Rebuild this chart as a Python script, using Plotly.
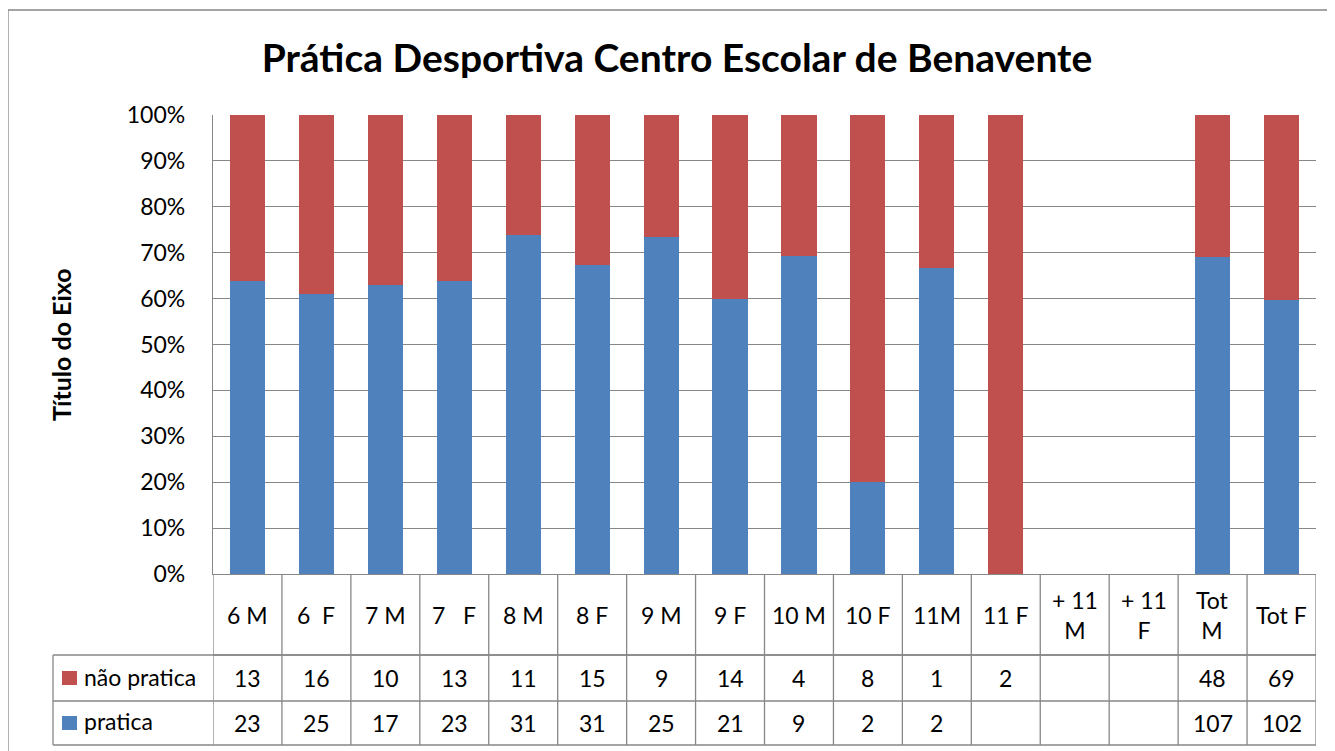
import plotly.graph_objects as go

categories = ["6 M", "6  F", "7 M", "7   F", "8 M", "8 F", "9 M", "9 F",
              "10 M", "10 F", "11M", "11 F", "+ 11 M", "+ 11 F", "Tot M", "Tot F"]
cat_labels = ["6 M", "6  F", "7 M", "7   F", "8 M", "8 F", "9 M", "9 F",
              "10 M", "10 F", "11M", "11 F", "+ 11<br>M", "+ 11<br>F", "Tot<br>M", "Tot F"]
nao_pratica = [13, 16, 10, 13, 11, 15, 9, 14, 4, 8, 1, 2, None, None, 48, 69]
pratica = [23, 25, 17, 23, 31, 31, 25, 21, 9, 2, 2, None, None, None, 107, 102]

BLUE = "#4F81BD"
RED = "#C0504D"
GRID = "#878787"
FONT = "Lato, 'Open Sans', sans-serif"

# the page body has an 8px margin, so figure coords = screen coords - 8
OFF = 8
W, H = 1335, 751
# plot area in screen pixels
SL, SR, ST, SB = 213, 1316, 115, 574
L, T = SL - OFF, ST - OFF
R, B = W - (SR - OFF), H - (SB - OFF)
pw = SR - SL
ph = SB - ST


def py(pix):
    return (SB - pix) / ph


def px_(pix):
    return (pix - SL) / pw


fig = go.Figure()
fig.add_trace(go.Bar(x=categories, y=pratica, name="pratica", marker_color=BLUE,
                     marker_line_width=0))
fig.add_trace(go.Bar(x=categories, y=nao_pratica, name="não pratica", marker_color=RED,
                     marker_line_width=0))

shapes = []
annotations = []
line = dict(color=GRID, width=1.3)

row_lines = [574, 655, 701, 745]
# table vertical lines
for i in range(len(categories) + 1):
    shapes.append(dict(type="line", xref="x", yref="paper", x0=i - 0.5, x1=i - 0.5,
                       y0=0, y1=py(745), line=line))
# horizontal lines
shapes.append(dict(type="line", xref="paper", yref="paper", x0=0, x1=1,
                   y0=py(655), y1=py(655), line=line))
for r in row_lines[1:]:
    shapes.append(dict(type="line", xref="paper", yref="paper", x0=px_(53), x1=1,
                       y0=py(r), y1=py(r), line=line))
shapes.append(dict(type="line", xref="paper", yref="paper", x0=px_(53), x1=px_(53),
                   y0=py(655), y1=py(745), line=line))
# outer chart border
shapes.append(dict(type="rect", xref="paper", yref="paper", x0=px_(8), x1=px_(1345),
                   y0=py(760), y1=py(10), line=dict(color=GRID, width=1.3)))

# legend keys
for r0, r1, color in [(655, 701, RED), (701, 745, BLUE)]:
    mid = (r0 + r1) / 2
    shapes.append(dict(type="rect", xref="paper", yref="paper", x0=px_(62), x1=px_(77),
                       y0=py(mid + 7), y1=py(mid - 7), fillcolor=color, line_width=0))

txt = dict(family=FONT, size=23, color="#000")
for i, lab in enumerate(cat_labels):
    annotations.append(dict(x=i, y=py(614.5), xref="x", yref="paper", text=lab,
                            showarrow=False, yanchor="middle", font=txt))
    if nao_pratica[i] is not None:
        annotations.append(dict(x=i, y=py(678), xref="x", yref="paper", yanchor="middle",
                                text=str(nao_pratica[i]), showarrow=False, font=txt))
    if pratica[i] is not None:
        annotations.append(dict(x=i, y=py(723), xref="x", yref="paper", yanchor="middle",
                                text=str(pratica[i]), showarrow=False, font=txt))

annotations.append(dict(x=px_(82), y=py(677), xref="paper", yref="paper", text="não pratica",
                        showarrow=False, xanchor="left", yanchor="middle", font=txt))
annotations.append(dict(x=px_(82), y=py(721), xref="paper", yref="paper", text="pratica",
                        showarrow=False, xanchor="left", yanchor="middle", font=txt))
annotations.append(dict(x=px_(61), y=py(345), xref="paper", yref="paper",
                        text="<b>Título do Eixo</b>", textangle=-90, showarrow=False,
                        xanchor="center", yanchor="middle",
                        font=dict(family=FONT, size=25, color="#000")))

fig.update_layout(
    barmode="stack",
    barnorm="percent",
    bargap=0.49,
    width=W, height=H,
    margin=dict(l=L, r=R, t=T, b=B),
    paper_bgcolor="white",
    plot_bgcolor="white",
    showlegend=False,
    title=dict(text="<b>Prática Desportiva Centro Escolar de Benavente</b>",
               x=(677 - OFF) / W, xanchor="center", y=1 - (58 - OFF) / H, yanchor="middle",
               font=dict(family=FONT, size=39, color="#000")),
    font=dict(family=FONT, color="#000"),
    shapes=shapes,
    annotations=annotations,
)
fig.update_xaxes(showticklabels=False, showgrid=False, showline=True, linecolor=GRID,
                 linewidth=1.3, range=[-0.5, len(categories) - 0.5], ticks="")
fig.update_yaxes(range=[0, 100], dtick=10, ticksuffix="%", showgrid=True, gridcolor=GRID,
                 gridwidth=1.3, showline=True, linecolor=GRID, linewidth=1.3,
                 zeroline=False, ticks="", ticklabelstandoff=22,
                 tickfont=dict(family=FONT, size=23, color="#000"))

fig.write_html("out.html")
